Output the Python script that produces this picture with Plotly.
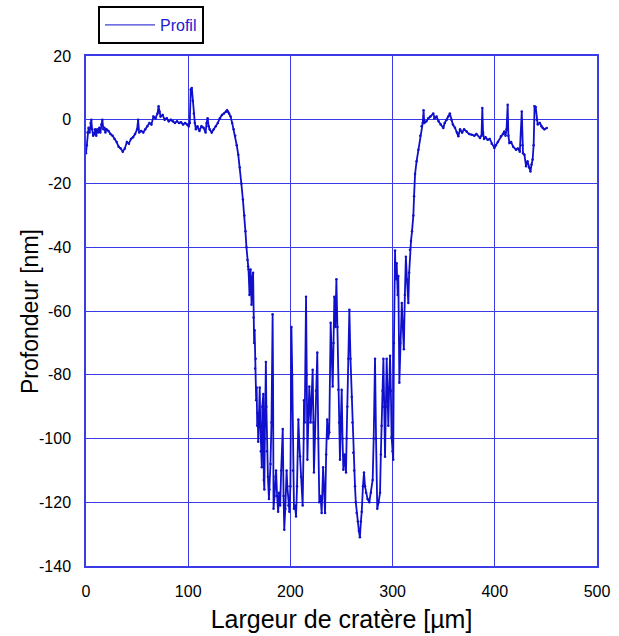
import plotly.graph_objects as go

# Profile data (x in µm, y in nm)
largeur = [0.0, 0.8, 1.5, 2.5, 3.5, 4.5, 5.2, 6, 7, 8, 9, 10, 11, 12, 13, 14, 15, 16, 17, 18, 19, 20, 22, 24, 26, 28, 30, 32, 34, 36, 38, 40, 42, 44, 46, 48, 50, 51, 52, 54, 56, 58, 60, 62, 64, 66, 68, 70, 71, 72, 73, 75, 77, 79, 81, 83, 85, 87, 89, 91, 93, 95, 97, 99, 100.5, 101.5, 102.5, 103.5, 104.5, 105.5, 106.5, 107.5, 109, 111, 113, 115, 117, 118, 119, 120, 121, 123, 125, 127, 129, 131, 133, 135, 137, 138, 139, 140, 141.5, 143, 144.5, 146, 147.5, 149, 150.5, 152, 153.5, 155, 156, 157, 158, 158.6,
           159, 160, 161, 162, 162.5, 163.5, 164, 164.5, 165, 165.5, 166, 166.5, 167, 167.5, 168, 168.5, 169, 170, 170.5, 171, 172, 172.5, 173.5, 174, 174.5, 175, 176, 176.5, 177, 178, 179, 179.5, 180.5, 181.5, 182.6, 183, 183.5, 184.5, 185.5, 186, 187, 188, 189, 190, 191, 192.5, 193.3, 194, 195, 196.3, 197, 198, 199, 200, 201, 201.8, 202.5, 203.5, 204.5, 205.5, 206.5, 207.8, 208.5, 209.4, 210.5, 212, 213, 213.3, 214, 215.3, 216, 216.6, 217.5, 218.5, 219.8, 220.8, 221.8, 222.5, 223, 224, 225, 226.3, 227.3, 228.3, 229.5, 230.6, 232, 233, 233.9, 235, 236, 237, 238, 239.4, 240.3, 241.4, 242.2, 243, 244, 245, 246, 246.9, 247.7, 248.5, 249.3, 250.2, 251, 251.8, 253, 254.4, 255, 255.7, 256.7, 257.7, 258.8, 260, 260.7, 261.5, 262.4, 263.2, 264, 264.8, 266, 267, 268, 269, 269.8, 271, 272, 273, 274, 275.5, 277.2, 278.8, 280.5, 281.5, 282.8, 283.8, 285, 286.3, 287.7, 288.5, 289.3, 290.2, 291, 291.8, 292.6, 293.4, 294.2, 295, 295.8, 296.6, 297.5, 298.3, 299, 300, 300.6, 301.3, 302.4, 303, 304, 305, 305.6, 306.6, 307.5, 309, 310, 311, 312, 313, 314, 315.4, 316.2, 317, 318, 319, 320.3, 321, 322, 323.5, 325.2, 327, 328.4, 329.5, 330.3, 331, 333, 335, 337, 339.8, 341, 343, 345, 347, 349.6, 351, 353, 354.5, 356, 357.5, 359, 361, 363, 364.3, 366, 368, 370, 372.5, 375, 377.4, 380, 382, 385.5, 387, 387.8, 388.5, 389.5, 391, 393, 395, 397, 399.6, 401, 403, 406, 408, 409.3, 410.5, 411.5, 412.6, 413.3, 414.3, 416, 418, 420.8, 422.5, 424.5, 426.4, 427, 427.6, 429, 430.6, 432, 433.5, 434.9, 436, 437, 438, 438.9, 440, 441, 442, 444, 445.5, 447, 448.5, 450.8]

profondeur = [-10.5, -8, -4, -2.5, -4, -1, 0, -3, -5, -4.5, -3, -5, -3, -4, -2.5, -4, -1.5, 0, -3, -2.5, -4, -3, -3.5, -4.5, -5, -6, -7, -8.5, -9, -10, -9, -7, -7.5, -6, -5.5, -4.5, -3, 0, -4, -3.5, -4, -3, -2, -1, -1.5, 1, 0.5, 2, 4.2, 2.5, 1, 1.5, 0, 0.5, -0.5, 0, -0.5, -1, -0.5, -1, -0.8, -1.5, -1, -1.5, -2, -1, 9.5, 10, 6, 2, -1, -3, -2, -3.5, -2, -2.5, -4, -1, 0.5, -2, -3, -4, -3, -2, -1, 0.5, 1.5, 2, 2.5, 3, 2.5, 2, 1, -1, -3, -5, -8, -11, -15, -20, -25, -30, -35, -40, -44, -46,
              -47, -55, -47, -58, -50, -48, -62, -70, -66, -78, -75, -88, -84, -96, -92, -101, -93, -84, -95, -104, -109, -90, -86, -113, -116, -100, -76, -90, -104, -112, -119, -116, -108, -95, -61, -80, -122, -118, -112, -110, -118, -123, -117, -121, -110, -97, -118, -128.6, -122, -110, -115, -121, -123, -115, -65, -80, -110, -122, -121, -124.5, -115, -94, -100, -105.6, -112, -121, -100, -88, -95, -55.5, -80, -106.7, -95, -83.7, -95, -88, -78.4, -95, -110.7, -100, -85, -73, -100, -120, -118, -123.4, -109, -115, -123.4, -105, -94, -100, -98, -63.7, -75, -83.7, -70, -55.5, -65, -50, -65, -84.7, -95, -106.7, -95, -84.7, -100, -109.8, -105, -110.7, -100, -90, -75, -59.6, -75, -87, -95, -104.5, -110, -115, -120, -123.4, -126, -129, -131, -126, -123, -115, -110.7, -115, -117, -119, -120, -117, -113, -100, -75, -100, -122, -120, -117, -105, -96, -85, -75, -90, -105.7, -90, -75, -85, -96, -85, -74, -85, -99.5, -104, -106.7, -70, -41, -50, -45, -55, -49, -82.5, -70, -57.5, -65, -72, -55, -43, -50, -57.5, -48, -40.8, -38, -35, -30, -24, -17, -13, -9.4, -5, -2, -1, 3, -1, -0.5, 0.5, 1, 2, 0.5, 1, -0.5, -1.5, -2.6, -1, 0, 1, 2, 0, -1.5, -2.5, -4, -5.2, -3, -4, -3, -3.7, -4.5, -4.7, -5, -4.5, -5.7, -5, 3.7, -4, -6, -5.5, -6.3, -6, -7.5, -8.9, -8, -7, -5.2, -4.5, -3.7, -5, -3, 4.7, -5, -7.3, -7, -8.5, -9.4, -9, -10, 2.6, -8, -10.5, -11, -14.6, -13, -15, -16.2, -14, -12.5, -8, 4.2, 4, 0, -1.5, -1, -2, -2.6, -3, -2.6]

x_ticks = [0, 100, 200, 300, 400, 500]
y_ticks = [20, 0, -20, -40, -60, -80, -100, -120, -140]
y_tick_labels = ["20", "0", "-20", "-40", "-60", "-80", "-100", "-120", "-140"]
series_name = "Profil"
x_title = "Largeur de cratère [µm]"
y_title = "Profondeur [nm]"

line_color = "#1010CC"
grid_color = "#3a3ae6"
font_family = "Arial, Liberation Sans, sans-serif"

fig = go.Figure()
fig.add_trace(go.Scatter(
    x=largeur, y=profondeur, mode="lines+markers",
    line=dict(color=line_color, width=1.8),
    marker=dict(color=line_color, size=2.5),
    showlegend=False,
))
fig.add_trace(go.Scatter(
    x=[None], y=[None], mode="lines", name=series_name,
    line=dict(color=line_color, width=1),
))

fig.update_layout(
    width=619, height=636,
    margin=dict(l=86, r=22, t=56, b=70, autoexpand=False),
    plot_bgcolor="white", paper_bgcolor="white",
    font=dict(family=font_family, size=16, color="black"),
    legend=dict(
        x=0.0235, y=1.098, xanchor="left", yanchor="top",
        bordercolor="black", borderwidth=2, bgcolor="white",
        font=dict(size=16, color="#2020D0"),
        itemwidth=50,
    ),
    xaxis=dict(
        range=[0, 500], tickvals=x_ticks,
        showgrid=True, gridcolor=grid_color, gridwidth=1,
        showline=True, linecolor=grid_color, linewidth=1.5, mirror=True,
        ticks="inside", ticklen=3, tickcolor=grid_color,
        ticklabelstandoff=10,
        zeroline=False,
        title=dict(text=x_title, font=dict(size=25), standoff=12),
    ),
    yaxis=dict(
        range=[-140, 20], tickvals=y_ticks, ticktext=y_tick_labels,
        showgrid=True, gridcolor=grid_color, gridwidth=1,
        showline=True, linecolor=grid_color, linewidth=1.5, mirror=True,
        ticks="inside", ticklen=3, tickcolor=grid_color,
        ticklabelstandoff=10,
        zeroline=False,
    ),
    annotations=[dict(
        text=y_title, textangle=-90, showarrow=False,
        xref="paper", yref="paper", x=-0.1096, y=0.5,
        xanchor="center", yanchor="middle",
        font=dict(size=23, color="black"),
    )],
)

fig.write_html("out.html")
